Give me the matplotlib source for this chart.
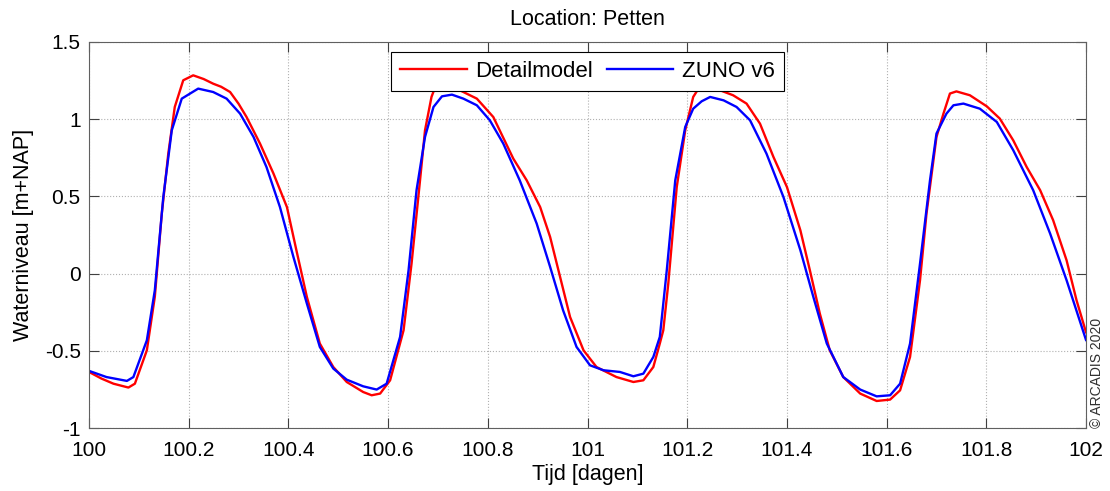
import matplotlib
matplotlib.use("Agg")
import matplotlib.pyplot as plt

plt.rcParams['font.family'] = ['Liberation Sans', 'DejaVu Sans']

# Detailmodel (tijd in dagen, waterniveau in m+NAP)
t_detail = [100.000, 100.025, 100.049, 100.079, 100.092, 100.116, 100.132, 100.146, 100.159, 100.172,
            100.189, 100.209, 100.230, 100.249, 100.265, 100.283, 100.300, 100.316, 100.343, 100.370,
            100.397, 100.416, 100.437, 100.463, 100.490, 100.517, 100.550, 100.567, 100.584, 100.604,
            100.631, 100.647, 100.664, 100.674, 100.687, 100.697, 100.715, 100.744, 100.778, 100.811,
            100.851, 100.878, 100.905, 100.925, 100.945, 100.965, 100.992, 101.018, 101.058, 101.092,
            101.112, 101.132, 101.145, 101.152, 101.162, 101.179, 101.196, 101.212, 101.225, 101.245,
            101.266, 101.292, 101.319, 101.346, 101.373, 101.400, 101.427, 101.446, 101.466, 101.486,
            101.513, 101.547, 101.580, 101.607, 101.627, 101.647, 101.667, 101.680, 101.700, 101.714,
            101.727, 101.740, 101.767, 101.801, 101.827, 101.854, 101.881, 101.908, 101.934, 101.961,
            101.981, 102.000]
wl_detail = [-0.637, -0.680, -0.713, -0.738, -0.713, -0.497, -0.150, 0.389, 0.777, 1.079,
             1.252, 1.284, 1.260, 1.230, 1.210, 1.176, 1.100, 1.014, 0.842, 0.648,
             0.431, 0.151, -0.151, -0.453, -0.605, -0.702, -0.767, -0.788, -0.777, -0.691,
             -0.367, 0.065, 0.604, 0.928, 1.144, 1.230, 1.240, 1.187, 1.133, 1.014,
             0.745, 0.604, 0.431, 0.237, -0.022, -0.281, -0.497, -0.605, -0.670, -0.702,
             -0.691, -0.605, -0.453, -0.367, -0.065, 0.561, 0.928, 1.144, 1.210, 1.210,
             1.187, 1.155, 1.101, 0.971, 0.755, 0.561, 0.280, 0.022, -0.259, -0.497,
             -0.670, -0.777, -0.825, -0.816, -0.756, -0.540, -0.043, 0.389, 0.885, 1.036,
             1.166, 1.180, 1.155, 1.083, 1.004, 0.863, 0.690, 0.540, 0.346, 0.086,
             -0.173, -0.380]

# ZUNO v6
t_zuno = [100.000, 100.035, 100.076, 100.089, 100.116, 100.132, 100.149, 100.166, 100.186, 100.219,
          100.249, 100.276, 100.303, 100.330, 100.356, 100.383, 100.410, 100.437, 100.463, 100.490,
          100.517, 100.550, 100.577, 100.597, 100.624, 100.641, 100.657, 100.674, 100.691, 100.708,
          100.728, 100.751, 100.778, 100.804, 100.831, 100.864, 100.898, 100.925, 100.951, 100.978,
          101.005, 101.032, 101.065, 101.092, 101.112, 101.132, 101.145, 101.159, 101.176, 101.196,
          101.212, 101.229, 101.246, 101.273, 101.299, 101.326, 101.359, 101.393, 101.427, 101.453,
          101.480, 101.513, 101.547, 101.580, 101.607, 101.627, 101.647, 101.667, 101.687, 101.700,
          101.720, 101.734, 101.754, 101.787, 101.821, 101.854, 101.894, 101.928, 101.961, 102.000]
wl_zuno = [-0.630, -0.670, -0.695, -0.670, -0.432, -0.108, 0.496, 0.928, 1.133, 1.198,
           1.176, 1.133, 1.036, 0.885, 0.690, 0.431, 0.108, -0.194, -0.475, -0.615,
           -0.687, -0.730, -0.751, -0.713, -0.410, 0.022, 0.540, 0.885, 1.079, 1.148,
           1.159, 1.133, 1.090, 0.993, 0.842, 0.604, 0.324, 0.043, -0.238, -0.475,
           -0.594, -0.626, -0.637, -0.665, -0.648, -0.540, -0.410, 0.022, 0.604, 0.950,
           1.068, 1.116, 1.144, 1.122, 1.079, 0.993, 0.777, 0.496, 0.151, -0.151,
           -0.453, -0.670, -0.751, -0.795, -0.788, -0.713, -0.453, 0.065, 0.604, 0.907,
           1.036, 1.090, 1.101, 1.068, 0.982, 0.799, 0.540, 0.259, -0.043, -0.430]

xticks = [100, 100.2, 100.4, 100.6, 100.8, 101, 101.2, 101.4, 101.6, 101.8, 102]
xticklabels = ['100', '100.2', '100.4', '100.6', '100.8', '101', '101.2', '101.4', '101.6', '101.8', '102']
yticks = [-1, -0.5, 0, 0.5, 1, 1.5]
yticklabels = ['-1', '-0.5', '0', '0.5', '1', '1.5']

fig = plt.figure(figsize=(11.1, 4.91), dpi=100)
ax = fig.add_axes([0.0802, 0.1283, 0.8982, 0.7862])

ax.plot(t_detail, wl_detail, color='#ff0000', lw=1.7, label='Detailmodel')
ax.plot(t_zuno, wl_zuno, color='#0000ff', lw=1.7, label='ZUNO v6')

ax.set_xlim(100, 102)
ax.set_ylim(-1, 1.5)
ax.set_xticks(xticks)
ax.set_xticklabels(xticklabels)
ax.set_yticks(yticks)
ax.set_yticklabels(yticklabels)
ax.tick_params(direction='in', top=True, right=True, length=7, width=0.8,
               color='#404040', labelsize=15)
ax.tick_params(axis='x', pad=9)
ax.tick_params(axis='y', pad=6)
ax.grid(True, linestyle=':', color='#b0b0b0', linewidth=0.8)
for s in ax.spines.values():
    s.set_color('#606060')

ax.set_xlabel('Tijd [dagen]', fontsize=15.5, labelpad=3)
ax.set_ylabel('Waterniveau [m+NAP]', fontsize=15.5, labelpad=8)
ax.set_title('Location: Petten', fontsize=15.5, pad=12)

leg = ax.legend(loc='upper center', ncol=2, fontsize=16, handlelength=3.0,
                fancybox=False, framealpha=1, edgecolor='black',
                borderpad=0.4, columnspacing=0.6, handletextpad=0.4,
                borderaxespad=0, bbox_to_anchor=(0.5, 0.974))
leg.get_frame().set_linewidth(0.8)

fig.text(0.988, 0.128, '\u00a9 ARCADIS 2020', rotation=90, fontsize=10,
         ha='center', va='bottom', color='#303030')

fig.savefig('out.png', dpi=100)
